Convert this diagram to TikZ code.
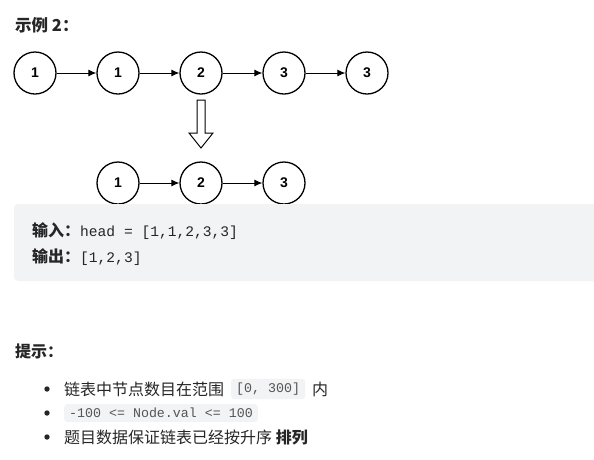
\documentclass[tikz,border=0pt]{standalone}
\usepackage{fontspec}
\setmainfont{Noto Sans CJK SC}
\newfontfamily\numfont{Liberation Sans}
\setmonofont{Liberation Mono}
\usetikzlibrary{arrows.meta}
\definecolor{codebg}{HTML}{F2F3F5}
\definecolor{txt}{HTML}{262626}
\definecolor{codetxt}{HTML}{555555}

\tikzset{
  elem/.style={draw, circle, minimum size=42pt, inner sep=0pt, line width=1.3pt,
    font=\numfont\bfseries\fontsize{14}{14}\selectfont},
  link/.style={-{Latex[length=8pt,width=7pt]}, line width=1pt},
  label/.style={anchor=west, inner sep=0pt, text=txt},
  inlinecode/.style={fill=codebg, rounded corners=3pt, inner xsep=5pt, inner ysep=4pt,
    anchor=west, text=codetxt, font=\ttfamily\fontsize{13.3}{14}\selectfont}
}

\begin{document}
\begin{tikzpicture}[x=1pt, y=-1pt]
    \useasboundingbox (0,0) rectangle (594,459);
    % heading
    \node[label, font=\bfseries\fontsize{16.5}{17}\selectfont] (title) at (15,25) {示例 2：};
    % input list
    \node[elem] (a1) at (35,73)  {1};
    \node[elem] (a2) at (118,73) {1};
    \node[elem] (a3) at (201,73) {2};
    \node[elem] (a4) at (284,73) {3};
    \node[elem] (a5) at (367,73) {3};
    \draw[link] (a1) -- (a2);
    \draw[link] (a2) -- (a3);
    \draw[link] (a3) -- (a4);
    \draw[link] (a4) -- (a5);
    % hollow arrow
    \draw[line width=1pt] (197,100) -- (205,100) -- (205,133) -- (213,133) -- (201,148)
      -- (189,133) -- (197,133) -- cycle;
    % result list
    \node[elem] (b1) at (118,183) {1};
    \node[elem] (b2) at (201,183) {2};
    \node[elem] (b3) at (284,183) {3};
    \draw[link] (b1) -- (b2);
    \draw[link] (b2) -- (b3);
    % example box
    \fill[codebg, rounded corners=4pt] (14,204) rectangle (600,281);
    \node[label, font=\fontsize{16}{17}\selectfont] (in) at (32,231)
      {\textbf{输入：}{\ttfamily\fontsize{14.6}{15}\selectfont head = [1,1,2,3,3]}};
    \node[label, font=\fontsize{16}{17}\selectfont] (out) at (32,257)
      {\textbf{输出：}{\ttfamily\fontsize{14.6}{15}\selectfont [1,2,3]}};
    % hints
    \node[label, font=\bfseries\fontsize{16}{17}\selectfont] (hint) at (15,351) {提示：};
    \foreach \y in {389,413,437}
      \fill[txt] (47,\y) circle (2.7pt);
    \node[label, font=\fontsize{16}{17}\selectfont] (h1) at (64,389) {链表中节点数目在范围};
    \node[inlinecode] (c1) at (231,389) {[0, 300]};
    \node[label, font=\fontsize{16}{17}\selectfont] (h1b) at (312,389) {内};
    \node[inlinecode] (c2) at (64,413) {-100 <= Node.val <= 100};
    \node[label, font=\fontsize{16}{17}\selectfont] (h3) at (64,437)
      {题目数据保证链表已经按升序 \textbf{排列}};
\end{tikzpicture}
\end{document}
